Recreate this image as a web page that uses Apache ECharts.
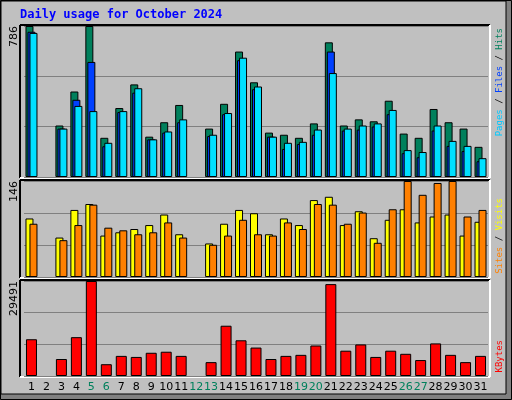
<!DOCTYPE html>
<html>
<head>
<meta charset="utf-8">
<script src="https://cdn.jsdelivr.net/npm/echarts@6/dist/echarts.min.js"></script>
<style>
html, body { margin: 0; padding: 0; background: #C0C0C0; }
#main { width: 512px; height: 400px; }
</style>
</head>
<body>
<div id="main"></div>
<script>
var days = ['1','2','3','4','5','6','7','8','9','10','11','12','13','14','15','16',
            '17','18','19','20','21','22','23','24','25','26','27','28','29','30','31'];
var weekend = ['5','6','12','13','19','20','26','27'];

var hits  = [786,null,268,445,786,204,359,482,210,285,375,null,252,381,653,493,231,220,204,279,701,268,300,290,397,226,204,354,285,252,157];
var files = [756,null,252,402,599,160,338,439,196,231,285,null,213,327,608,457,210,146,172,220,653,242,247,263,327,124,103,242,162,135,82];
var pages = [750,null,252,370,343,178,343,462,196,237,300,null,220,333,621,471,210,178,183,247,541,252,268,279,349,140,130,268,188,162,98];

var visits = [89,null,60,102,111,63,68,73,79,95,65,null,51,81,102,97,65,89,79,117,122,79,100,59,87,103,83,92,95,63,84];
var sites  = [81,null,56,79,110,75,71,65,68,83,60,null,49,63,87,65,63,83,73,111,110,81,98,52,103,146,125,143,146,92,102];

var kbytes = [11409,null,5274,12055,29491,3660,6243,5920,7211,7534,6243,null,4305,15606,11086,8826,5274,6243,6565,9471,28522,7857,9794,5920,7857,6888,4951,10117,6565,4305,6243];

var maxPages = 786, maxVisits = 146, maxKbytes = 29491;

var myChart = echarts.init(document.getElementById('main'));

// plot grid is a little narrower than the drawn frame so the bar groups sit like the original
var L = 24, R = 24;
var FL = 20, FR = 490;
var panels = [{top: 26, h: 151}, {top: 181, h: 96}, {top: 281, h: 95}];

function xAxis(i, show) {
  return {
    type: 'category', gridIndex: i, data: days,
    axisLine: {show: false}, axisTick: {show: false},
    axisLabel: {
      show: show, margin: 6, fontFamily: 'DejaVu Sans', fontSize: 11,
      color: function (v) { return weekend.indexOf(v) >= 0 ? '#00805C' : '#000'; },
      interval: 0
    }
  };
}
function yAxis(i, max) {
  return {
    type: 'value', gridIndex: i, min: 0, max: max, interval: max / 3,
    axisLabel: {show: false}, axisLine: {show: false}, axisTick: {show: false},
    splitLine: {lineStyle: {color: '#808080', width: 1}}
  };
}
function bar(name, data, color, xi, width, gap) {
  return {
    name: name, type: 'bar', xAxisIndex: xi, yAxisIndex: xi, data: data,
    barWidth: width, barGap: gap, animation: false,
    itemStyle: {color: color, borderColor: '#000', borderWidth: 1}
  };
}
function frame(p) {
  var x1 = FL, x2 = FR, y1 = p.top - 1, y2 = p.top + p.h + 1;
  return [
    {type: 'line', shape: {x1: x1, y1: y1, x2: x2, y2: y1}, style: {stroke: '#000', lineWidth: 2}},
    {type: 'line', shape: {x1: x1, y1: y1, x2: x1, y2: y2}, style: {stroke: '#000', lineWidth: 2}},
    {type: 'line', shape: {x1: x1, y1: y2, x2: x2, y2: y2}, style: {stroke: '#fff', lineWidth: 2}},
    {type: 'line', shape: {x1: x2, y1: y1, x2: x2, y2: y2}, style: {stroke: '#fff', lineWidth: 2}}
  ];
}
function sideText(txt, rich, x, y) {
  return {type: 'text', x: x, y: y, rotation: Math.PI / 2,
    style: {text: txt, rich: rich, font: '9px DejaVu Sans Mono', align: 'right', verticalAlign: 'middle'}};
}
function maxText(v, y) {
  return {type: 'text', x: 14, y: y, rotation: Math.PI / 2,
    style: {text: String(v), font: '11px DejaVu Sans', fill: '#000', align: 'right', verticalAlign: 'middle'}};
}

var graphics = [
  {type: 'rect', shape: {x: 0, y: 0, width: 512, height: 400}, style: {fill: '#808080'}, z: -10},
  {type: 'rect', shape: {x: 1, y: 1, width: 505, height: 393}, style: {fill: '#C0C0C0', stroke: '#000', lineWidth: 1}, z: -9},
  {type: 'rect', shape: {x: 0.5, y: 0.5, width: 511, height: 399}, style: {fill: 'none', stroke: '#000', lineWidth: 1}, z: -8},
  {type: 'text', x: 20, y: 9, style: {text: 'Daily usage for October 2024', font: 'bold 12px DejaVu Sans Mono', fill: '#0000FF'}},
  maxText(maxPages, 26), maxText(maxVisits, 181), maxText(maxKbytes, 281),
  sideText('{p|Pages} / {f|Files} / {h|Hits}', {p: {fill: '#00C8FF', font: '9px DejaVu Sans Mono'}, f: {fill: '#0040FF', font: '9px DejaVu Sans Mono'}, h: {fill: '#00805C', font: '9px DejaVu Sans Mono'}}, 500, 28),
  sideText('{s|Sites} / {v|Visits}', {s: {fill: '#FF8000', font: '9px DejaVu Sans Mono'}, v: {fill: '#FFFF00', font: '9px DejaVu Sans Mono'}}, 500, 198),
  sideText('{k|KBytes}', {k: {fill: '#FF0000', font: '9px DejaVu Sans Mono'}}, 500, 340)
];
panels.forEach(function (p) { graphics = graphics.concat(frame(p)); });

myChart.setOption({
  animation: false,
  grid: panels.map(function (p) { return {left: L, right: R, top: p.top, height: p.h}; }),
  xAxis: [xAxis(0, false), xAxis(1, false), xAxis(2, true)],
  yAxis: [yAxis(0, maxPages), yAxis(1, maxVisits), yAxis(2, maxKbytes)],
  series: [
    bar('Hits', hits, '#00805C', 0, 8, '-75%'),
    bar('Files', files, '#0040FF', 0, 8, '-75%'),
    bar('Pages', pages, '#00E0FF', 0, 8, '-75%'),
    bar('Visits', visits, '#FFFF00', 1, 8, '-50%'),
    bar('Sites', sites, '#FF8000', 1, 8, '-50%'),
    bar('KBytes', kbytes, '#FF0000', 2, 11, '0%')
  ],
  graphic: graphics
});
</script>
</body>
</html>
